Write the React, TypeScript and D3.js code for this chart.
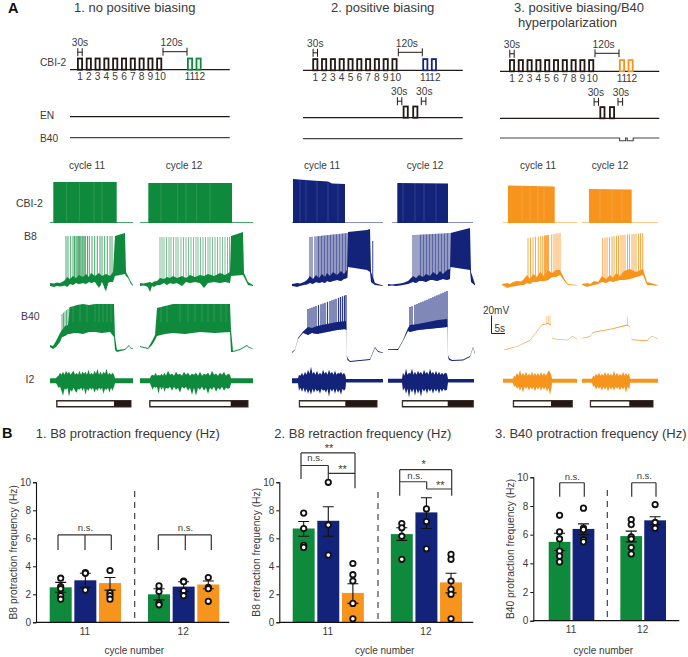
import React, { useEffect, useRef } from "react";
import * as d3 from "d3";

const green = "#0f8a3c";
const navy = "#14237a";
const orange = "#f7941d";
const ink = "#231815";
const label = "#3a3a3a";
const font = "'Liberation Sans', Arial, sans-serif";

// protocol timing, seconds
const cycleNames = ["1", "2", "3", "4", "5", "6", "7", "8", "9", "10", "11", "12"];
const cycleOnsets = [0, 44, 88, 132, 176, 220, 264, 308, 352, 396, 550, 593];
const enOnsets = [452, 500];
const b40Dips = [553, 591];

// traces: [time, low, high] in trace units
const p1c11Cbi = [[0, 0, 0.8], [3.3, 0, 0.8], [3.3, 0, 41], [66.7, 0, 41], [66.7, 0, 0.8], [83, 0, 0.8]];
const p1c12Cbi = [[0, 0, 0.8], [8.3, 0, 0.8], [8.3, 0, 40], [92, 0, 40], [92, 0, 0.8], [113, 0, 0.8]];
const p2c11Cbi = [[0, 0, 0.6], [1, 0, 0.6], [1, 0, 44], [20, 0, 42.5], [36, 0, 41.5], [40, 0, 39.5], [53, 0, 39], [53, 0, 0.6], [91, 0, 0.6]];
const p2c12Cbi = [[4, 0, 0.6], [9.3, 0, 0.6], [9.3, 0, 40], [60, 0, 39.5], [60, 0, 0.6], [85, 0, 0.6]];
const p3c11Cbi = [[1, 0, 0.6], [6, 0, 0.6], [6, 0, 37.5], [52.7, 0, 36.5], [52.7, 0, 0.6], [75, 0, 0.6]];
const p3c12Cbi = [[0, 0, 0.6], [7, 0, 0.6], [7, 0, 34], [49.7, 0, 33.5], [49.7, 0, 0.6], [76, 0, 0.6]];

const p1c11CbiGaps = [16.7, 29.3, 44, 52];
const p1c12CbiGaps = [21, 37.7, 46, 56.7, 70];
const p2c11CbiGaps = [8, 14, 25, 36, 46];
const p2c12CbiGaps = [15, 27, 36, 48];
const p3c11CbiGaps = [20, 28, 36, 42];
const p3c12CbiGaps = [18, 30, 40];

const p1c11B8 = [[0, 4, 7], [4, 3, 6.5], [7, 4, 7.5], [10, 3.5, 7], [13, 4, 8.5], [15, 4.5, 10], [17, 3, 13], [20, 6, 11], [23, 5, 14], [26, 7, 12], [29, 6, 15], [33, 7, 13], [36, 6, 16], [39, 8, 13], [41, 7, 17], [45, 8, 14], [49, 2, 17], [52, 8, 14], [56, -1.5, 16], [58, 7, 15], [60, 8, 14], [63, 8, 18], [65, 14, 54], [75, 16, 57], [76, 14, 18], [78, 12, 14], [81, 6, 8], [83, 4, 5]];
const p1c11B8Spikes = [16, 18, 20.7, 23, 24.5, 26, 27.2, 28.4, 29.6, 30.8, 32, 33, 34.2, 35.4, 37.5, 39.3, 42, 44.7, 47.3, 50, 52, 54.7, 57.3, 60, 62];
const p1c12B8 = [[0, 4, 7], [3, 4.5, 6.5], [6, 4, 7], [8, 2.5, 7.5], [10, -2, 8], [12, 4, 7], [14, 3, 8.5], [17, 5, 9], [20, 5, 12], [24, 7, 11], [27, 5, 13], [30, 7, 12], [33, 6, 14], [37, 7, 12], [42, 4, 14], [46, 8, 12], [50, 7, 15], [55, 8, 13], [60, 7, 15], [64, 2, 14], [68, 7, 16], [74, 8, 14], [80, 7, 17], [85, 8, 15], [90, 7, 18], [91, 14, 54], [103, 15, 58], [104, 13, 17], [108, 5, 8], [113, 4, 5]];
const p1c12B8Spikes = [20, 22, 24, 26.5, 29, 31, 33.5, 36, 38, 41, 43.5, 46, 48.5, 51, 53.5, 56, 58, 60.5, 63, 65.5, 68, 70, 72.5, 75, 77.5, 80, 82.5, 85, 87.5, 89.5];
const p2c11B8 = [[0, 4, 6], [3, 3.5, 6.5], [5, 3, 7], [8, 4, 6.5], [12, 5, 8], [15, 5.5, 10], [18, 7, 14], [21, 6, 11], [24, 8, 15], [27, 7, 12], [30, 8, 16], [33, 7, 13], [35, 9, 17], [38, 8, 14], [41, 9, 18], [45, 10, 15], [49, 9, 19], [52, 11, 16], [55, 12, 20], [56, 23, 58], [75, 20, 60], [78, 18, 61], [79, 8, 18], [83, 5, 7], [91, 4, 4.5]];
const p2c11B8Spikes = [18, 20, 23, 25, 26.5, 28, 29.5, 31, 32.5, 34, 35.5, 37, 38.5, 40, 41.5, 43, 44.5, 46, 47.5, 49, 50.5, 52, 53.5, 55, 80.7];
const p2c12B8 = [[0, 4, 6], [4, 4.5, 5.5], [8, 4, 6], [12, 4.5, 6.5], [15, 5, 7], [20, 6, 9], [25, 8, 14], [28, 7, 12], [31, 9, 15], [35, 9, 13], [38, 8, 16], [42, 10, 14], [45, 10, 18], [49, 9, 15], [52, 10, 19], [55, 11, 16], [59, 10, 20], [62, 11, 21], [62.5, 23, 57], [82, 20, 62], [83, 8, 18], [87, 4.5, 6]];
const p2c12B8Spikes = [25, 27, 29, 31, 32.5, 34, 35.5, 37, 38.5, 40, 41.5, 43, 44.5, 46, 47.5, 49, 50.5, 52, 53.5, 55, 56.5, 58, 59.5, 61];
const p3c11B8 = [[0, 5, 6], [3, 3.5, 6.5], [5, 2, 7], [8, 3, 6], [11, 3.5, 8], [15, 4, 9], [19, 5, 8.5], [22, 5, 11], [25, 7, 15], [28, 6, 11], [31, 8, 16], [35, 8, 13], [38, 9, 18], [42, 9, 14], [46, 10, 20], [50, 13, 17], [54, 13, 20], [58, 15, 20], [63, 8, 10], [66, 5, 6], [75, 4.5, 5]];
const p3c11B8Spikes = [26, 28.5, 31, 33.5, 36.3, 38.7, 40.7, 42.5, 43.5, 44.5, 45.5, 46.5, 49.7, 52, 54, 56, 58];
const p3c12B8 = [[0, 5, 6], [3, 4, 6.5], [5, 3, 7], [8, 4, 6], [12, 5, 9], [16, 6, 8], [20, 8, 14], [24, 7, 11], [28, 9, 15], [31, 8, 12], [34, 9, 17], [38, 10, 14], [42, 10, 19], [48, 11, 21], [54, 13, 18], [61, 15, 21], [65, 5, 8], [76, 4.5, 5]];
const p3c12B8Spikes = [20.7, 23, 25, 27.5, 30, 32, 34.5, 36.5, 39, 41, 43, 45.5, 47.5, 50, 52, 54, 56.5, 58.5, 60.7];

const p1c11B8Ceil = [[16, 54], [62, 54]];
const p1c12B8Ceil = [[20, 53], [90, 53]];
const p2c11B8Ceil = [[18, 53], [55, 57], [80.7, 49]];
const p2c12B8Ceil = [[25, 55], [62, 57]];
const p3c11B8Ceil = [[26, 52], [46, 55], [58, 57]];
const p3c12B8Ceil = [[20, 52], [40, 55], [61, 57]];

const p1c11B40 = [[0, 13, 15], [3, 11, 14], [6, 13, 19], [10, 18, 27], [12, 23, 30], [15, 24, 34], [18, 26, 35], [20, 26, 53], [24, 27, 54], [27, 27, 55], [33, 26, 56], [39, 28, 55], [45, 28, 56], [52, 27, 56], [60, 28, 56], [64, 23, 56], [65, 10, 23], [67, 8, 10], [75, 10, 11], [79, 14, 15], [81, 11, 12], [83, 11, 11.5]];
const p1c11B40Spikes = [12, 13.5, 15, 16.5, 18, 19.5];
const p1c11B40Gaps = [23, 30, 37, 45, 49, 53, 57, 61];
const p1c12B40 = [[0, 13, 14], [8, 11, 12], [12, 15, 19], [15, 20, 25], [17, 24, 52], [25, 26, 54], [33, 27, 56], [45, 26, 56], [60, 28, 56], [75, 27, 56], [90, 28, 56], [91, 8, 30], [93, 8, 9], [100, 10, 11], [107, 14, 15], [109, 12, 13], [113, 11, 11.5]];
const p1c12B40Gaps = [21, 27, 40, 48, 55, 62, 68, 74, 81, 86];
const p2c11B40 = [[0, 7, 8], [3, 10, 10.5], [6, 21, 22], [11, 27, 28.5], [16, 25, 33], [20, 27, 32], [25, 26, 34], [35, 28, 36], [45, 30, 38], [54, 31, 39], [54, 30, 39], [54.8, 3, 5], [55.5, 0, 2], [58, -2, -1], [78, 0, 1], [83, 12, 13], [86, 8, 9], [91, 7, 7.5]];
const p2c11B40Spikes = [16, 18, 20, 22, 24, 26.5, 29, 31, 33, 35.5, 38, 40, 42, 44, 46.5, 48.5, 50.5, 52.5, 54];
const p2c11B40Ceil = [[16, 51], [54, 65]];
const p2c12B40 = [[0, 10, 10.7], [10, 10, 11], [15, 19, 20], [20, 29, 32], [22, 28, 35], [30, 30, 36], [40, 31, 38], [50, 32, 40], [59, 33, 41], [59.2, 30, 41], [60, 3, 5], [61, 0, 2], [64, -1, 0], [75, -0.5, 0.5], [82, 3, 4], [85, 12, 13], [87, 6, 7]];
const p2c12B40Spikes = [22, 24, 27, 29, 31, 33, 35, 37, 39, 41, 43, 45, 47, 49, 51, 53, 55, 57, 59];
const p2c12B40Ceil = [[22, 53], [59, 69]];
const p3c11B40 = [[2, 9.7, 10.3], [15, 13.2, 13.8], [28, 19.2, 19.9], [34, 27.2, 28], [40, 34.7, 35.5], [46, 36.2, 37], [49, 34.6, 35.4], [50.3, 21.4, 22.2], [55, 20.2, 20.8], [66, 19.7, 20.3], [70, 23.7, 24.3], [75, 20.7, 21.3]];
const p3c11B40Spikes = [44.7, 46.3, 48];
const p3c11B40Ceil = [[44.7, 44], [48, 44.5]];
const p3c12B40 = [[0, 21.4, 22], [8, 23.1, 23.7], [11, 27.2, 27.9], [30, 30.8, 31.6], [45, 34.4, 35.4], [48, 33, 33.8], [49.7, 20, 20.8], [55, 19.6, 20.2], [65, 19.1, 19.7], [70, 23.7, 24.3], [76, 20.7, 21.3]];
const p3c12B40Spikes = [45.5];
const p3c12B40Ceil = [[45, 43.5], [46, 43.5]];

const p1c11I2 = [[0, -2.5, 2.5], [6, -2.5, 2.5], [7, -4, 4], [8.5, -7, 5], [10, -6, 8], [11.5, -10, 6], [13, -15, 9], [14.5, -8, 6], [16, -9, 10], [17.5, -7, 7], [19, -16, 9], [20.5, -9, 6], [22, -11, 8], [23.5, -7, 10], [25, -10, 6], [26.5, -12, 8], [28, -8, 6], [29.5, -9, 10], [31, -7, 6], [32.5, -10, 9], [34, -7, 7], [35.5, -14, 9], [37, -8, 6], [38.5, -10, 11], [40, -7, 6], [41.5, -9, 8], [43, -7, 6], [44.5, -12, 10], [46, -8, 7], [47.5, -10, 12], [49, -7, 6], [50.5, -9, 9], [52, -7, 6], [53.5, -13, 9], [55, -8, 7], [56.5, -9, 12], [58, -7, 6], [59.5, -12, 8], [61, -7, 6], [62.5, -10, 8], [64, -6, 6], [65, -2.5, 2.5], [83, -2.5, 2.5]];
const p1c12I2 = [[0, -2.5, 2.5], [10, -2.5, 2.5], [11, -5, 5], [12.5, -9, 6], [14, -6, 5], [15.5, -7, 8], [17, -6, 5], [18.5, -13, 6], [20, -6, 5], [21.5, -9, 7], [23, -6, 5], [24.5, -11, 8], [26, -7, 5], [28, -8, 10], [30, -6, 6], [32, -10, 7], [34, -6, 5], [36, -9, 9], [38, -7, 6], [40, -12, 7], [42, -6, 5], [44, -8, 9], [46, -6, 6], [48, -10, 8], [50, -7, 5], [52, -14, 7], [54, -7, 6], [56, -15, 8], [58, -7, 5], [60, -9, 9], [62, -6, 5], [64, -10, 7], [66, -7, 6], [68, -13, 8], [70, -7, 5], [72, -9, 10], [74, -6, 6], [76, -11, 7], [78, -7, 5], [80, -9, 8], [82, -6, 6], [84, -10, 9], [86, -7, 5], [88, -8, 7], [90, -7, 6], [91, -2.5, 2.5], [113, -2.5, 2.5]];
const p2c11I2 = [[0, -2.5, 2.5], [6, -2.5, 2.5], [7, -10, 6], [8.5, -7, 5], [10, -11, 8], [11.5, -7, 5], [13, -12, 9], [14.5, -8, 6], [16, -13, 11], [17.5, -9, 7], [19, -14, 14], [20.5, -8, 7], [22, -12, 9], [23.5, -8, 6], [25, -11, 10], [26.5, -9, 6], [28, -13, 8], [29.5, -8, 6], [31, -10, 11], [32.5, -9, 7], [34, -12, 9], [35.5, -8, 6], [37, -16, 11], [38.5, -8, 7], [40, -11, 9], [41.5, -8, 6], [43, -13, 10], [44.5, -8, 6], [46, -12, 8], [47.5, -9, 7], [49, -14, 9], [50.5, -8, 6], [52, -10, 8], [53.5, -8, 5], [54, -1.8, 1.8], [91, -1.8, 1.8]];
const p2c12I2 = [[0, -2, 2], [14, -2, 2], [15, -10, 8], [16.5, -7, 5], [18, -13, 12], [19.5, -8, 6], [21, -17, 8], [22.5, -8, 7], [24, -12, 12], [25.5, -8, 6], [27, -15, 9], [28.5, -8, 6], [30, -13, 10], [31.5, -9, 7], [33, -16, 9], [34.5, -8, 6], [36, -11, 11], [37.5, -8, 7], [39, -13, 9], [40.5, -8, 6], [42, -11, 12], [43.5, -8, 7], [45, -13, 9], [46.5, -8, 6], [48, -11, 10], [49.5, -8, 6], [51, -13, 9], [52.5, -8, 6], [54, -11, 8], [55.5, -8, 6], [57, -10, 8], [59, -9, 7], [60, -1.8, 1.8], [86, -1.8, 1.8]];
const p3c11I2 = [[1, -2, 2], [11, -2, 2], [12, -6, 5], [13.5, -5, 4], [15, -8, 8], [16.5, -6, 5], [18, -10, 11], [19.5, -6, 5], [21, -12, 8], [22.5, -6, 5], [24, -8, 9], [25.5, -6, 5], [27, -10, 7], [28.5, -6, 5], [30, -9, 9], [31.5, -6, 5], [33, -11, 8], [34.5, -6, 5], [36, -9, 8], [37.5, -6, 5], [39, -10, 9], [40.5, -6, 5], [42, -9, 8], [43.5, -6, 5], [45, -11, 7], [46.5, -7, 10], [48, -14, 9], [49.7, -6, 4], [50, -2, 2], [75, -2, 2]];
const p3c12I2 = [[0, -2, 2], [10, -2, 2], [11, -6, 5], [12.5, -5, 4], [14, -9, 7], [15.5, -6, 5], [17, -8, 8], [18.5, -6, 5], [20, -10, 7], [21.5, -6, 5], [23, -9, 9], [24.5, -6, 5], [26, -11, 8], [27.5, -6, 5], [29, -9, 7], [30.5, -6, 5], [32, -10, 10], [33.5, -6, 5], [35, -8, 8], [36.5, -6, 5], [38, -10, 7], [39.5, -6, 5], [41, -9, 9], [42.5, -6, 5], [44, -12, 8], [45.5, -6, 5], [47, -8, 8], [47.5, -8, 5], [48, -2, 2], [76, -2, 2]];

// panel B values, Hz
const cycles = ["11", "12"];
const b8ProMeans = [[2.5, 3.0, 2.8], [2.0, 2.55, 2.7]];
const b8ProErr = [[[2.15, 2.85], [2.5, 3.5], [2.3, 3.2]], [[1.6, 2.4], [2.2, 2.9], [2.4, 2.95]]];
const b8ProPts = [[[3.15, 2.55, 2.4, 1.9, 1.65], [3.55, 3.5, 2.3], [3.7, 2.1, 1.9, 1.65]], [[2.6, 2.2, 1.35, 1.25], [2.95, 2.9, 2.25, 1.9], [3.2, 2.5, 2.4, 1.5]]];
const b8RetMeans = [[6.7, 7.25, 2.1], [6.3, 7.85, 2.85]];
const b8RetErr = [[[6.15, 7.2], [6.15, 8.25], [1.35, 2.75]], [[5.85, 6.75], [6.7, 8.9], [2.1, 3.5]]];
const b8RetPts = [[[7.8, 6.7, 5.5, 5.35], [10, 6.95, 4.8], [4.2, 3.4, 2.95, 1.35, 0.25]], [[7.05, 6.75, 6.15, 4.5], [8.1, 7.2, 5.25], [4.85, 4.5, 2.95, 2.35, 2.0, 0.25]]];
const b40ProMeans = [[5.5, 6.4], [5.9, 7.0]];
const b40ProErr = [[[4.9, 6.1], [6.0, 6.75]], [[5.5, 6.25], [6.7, 7.25]]];
const b40ProPts = [[[7.35, 6.2, 5.7, 4.85, 4.5, 4.1], [7.85, 6.45, 6.35, 5.65, 5.5]], [[7.05, 6.7, 5.85, 5.7, 5.1, 4.65], [8.1, 6.85, 6.45]]];

const yTicks = [0, 2, 4, 6, 8, 10];

function addText(g, x, y, str, size, anchor = "start", weight = "normal", fill = label) {
  return g
    .append("text")
    .attr("x", x)
    .attr("y", y)
    .attr("font-size", size)
    .attr("font-family", font)
    .attr("font-weight", weight)
    .attr("text-anchor", anchor)
    .attr("fill", fill)
    .text(str);
}

function hMark(g, x1, x2, y1, y2) {
  const p = d3.path();
  p.moveTo(x1, y1);
  p.lineTo(x1, y2);
  p.moveTo(x2, y1);
  p.lineTo(x2, y2);
  p.moveTo(x1, (y1 + y2) / 2);
  p.lineTo(x2, (y1 + y2) / 2);
  g.append("path").attr("d", p.toString()).attr("fill", "none").attr("stroke", ink).attr("stroke-width", 1);
}

function hline(g, x1, x2, y, w = 1.2, c = ink) {
  g.append("line").attr("x1", x1).attr("x2", x2).attr("y1", y).attr("y2", y).attr("stroke", c).attr("stroke-width", w);
}

function drawBox(g, x, w, base, stroke) {
  g.append("rect")
    .attr("x", x + 0.9)
    .attr("y", base - 11.2)
    .attr("width", w - 1.8)
    .attr("height", 11.2)
    .attr("fill", "#fff")
    .attr("stroke", stroke)
    .attr("stroke-width", 1.8);
}

function drawProtocol(g, o) {
  const x = d3.scaleLinear().domain([0, 1000]).range([o.start, o.start + 200]);
  const boxW = x(30) - x(0);
  hline(g, o.x0, o.x1, o.cbiY);
  cycleOnsets.forEach((t, i) => {
    drawBox(g, x(t), boxW, o.cbiY, i < 10 ? ink : o.color);
    addText(g, x(t + 15) + (i == 9 ? 1 : i == 11 ? 1 : 0), o.cbiY + 10.5, cycleNames[i], 10.2, "middle");
  });
  addText(g, x(15), o.cbiY - 23.5, "30s", 10.2, "middle");
  hMark(g, x(15) - 2.2, x(15) + 2.2, o.cbiY - 21.5, o.cbiY - 13.5);
  addText(g, x(473), o.cbiY - 23.5, "120s", 10.2, "middle");
  hMark(g, x(430), x(550), o.cbiY - 22, o.cbiY - 14);

  hline(g, o.x0, o.x1, o.enY);
  if (o.en) {
    enOnsets.forEach((t) => drawBox(g, x(t), boxW, o.enY, ink));
    const lx = [x(enOnsets[0]) - 3.5, x(enOnsets[1] + 30) + 6];
    lx.forEach((c, i) => {
      addText(g, c, o.enY - 22.5, "30s", 10.2, "middle");
      hMark(g, c + (i == 0 ? -1.8 : -3), c + (i == 0 ? 2.6 : 1.6), o.enY - 20.5, o.enY - 12.5);
    });
  }
  if (o.dips) {
    const pts = [[o.x0, o.b40Y]];
    b40Dips.forEach((t) => {
      pts.push([x(t), o.b40Y], [x(t), o.b40Y + 2.7], [x(t + 30), o.b40Y + 2.7], [x(t + 30), o.b40Y]);
    });
    pts.push([o.x1, o.b40Y]);
    g.append("path").attr("d", d3.line()(pts)).attr("fill", "none").attr("stroke", "#444").attr("stroke-width", 1.1);
  } else {
    hline(g, o.x0, o.x1, o.b40Y, 1.2, "#444");
  }
}

function drawTrace(g, x0, refY, color, t) {
  const x = d3.scaleLinear().domain([0, 120]).range([x0, x0 + 120]);
  const y = d3.scaleLinear().domain([-30, 80]).range([refY + 30, refY - 80]);
  const area = d3
    .area()
    .x((d) => x(d[0]))
    .y0((d) => y(d[1]))
    .y1((d) => y(d[2]));
  g.append("path").attr("d", area(t.base)).attr("fill", color).attr("stroke", "none");

  if (t.spikes) {
    const foot = d3.scaleLinear().domain(t.base.map((d) => d[0])).range(t.base.map((d) => d[1]));
    const ceil = d3.scaleLinear().domain(t.ceil.map((d) => d[0])).range(t.ceil.map((d) => d[1]));
    g.selectAll(null)
      .data(t.spikes)
      .enter()
      .append("line")
      .attr("x1", (d) => x(d))
      .attr("x2", (d) => x(d))
      .attr("y1", (d) => y(foot(d)))
      .attr("y2", (d) => y(ceil(d)))
      .attr("stroke", color)
      .attr("stroke-width", t.spikeW || 1)
      .attr("stroke-opacity", t.spikeO || 0.7);
  }
  if (t.gaps) {
    const top = d3.max(t.base, (d) => d[2]);
    g.selectAll(null)
      .data(t.gaps)
      .enter()
      .append("line")
      .attr("x1", (d) => x(d))
      .attr("x2", (d) => x(d))
      .attr("y1", y(t.gapLow || 2))
      .attr("y2", y(top))
      .attr("stroke", "#fff")
      .attr("stroke-width", 0.7)
      .attr("stroke-opacity", 0.2);
  }
}

function drawBars(g, o) {
  const y = d3.scaleLinear().domain([0, 10]).range([o.y0, o.y10]);
  const outer = d3.scaleBand().domain(cycles).range(o.barRange).paddingInner(o.outerPad).paddingOuter(0);
  const colors = [green, navy, orange];
  const inner = d3
    .scaleBand()
    .domain(o.means[0].map((_, i) => String(i)))
    .range([0, outer.bandwidth()])
    .paddingInner(o.innerPad)
    .paddingOuter(0);

  cycles.forEach((c, ci) => {
    o.means[ci].forEach((m, si) => {
      const bx = outer(c) + inner(String(si));
      const cx = bx + inner.bandwidth() / 2;
      g.append("rect")
        .attr("x", bx)
        .attr("y", y(m))
        .attr("width", inner.bandwidth())
        .attr("height", y(0) - y(m))
        .attr("fill", colors[si]);
      const [lo, hi] = o.err[ci][si];
      const p = d3.path();
      p.moveTo(cx, y(lo));
      p.lineTo(cx, y(hi));
      p.moveTo(cx - 5.5, y(lo));
      p.lineTo(cx + 5.5, y(lo));
      p.moveTo(cx - 5.5, y(hi));
      p.lineTo(cx + 5.5, y(hi));
      g.append("path").attr("d", p.toString()).attr("fill", "none").attr("stroke", "#111").attr("stroke-width", 1.1);
      o.pts[ci][si].forEach((v) => {
        g.append("circle")
          .attr("cx", cx)
          .attr("cy", y(v))
          .attr("r", 2.7)
          .attr("fill", "#fff")
          .attr("stroke", "#111")
          .attr("stroke-width", 1.8);
      });
    });
    addText(g, outer(c) + outer.bandwidth() / 2 - 0.5, o.y0 + 12.5, c, 10, "middle");
  });

  const axis = d3.axisLeft(y).tickValues(yTicks).tickSize(3).tickPadding(2);
  const ag = g.append("g").attr("transform", `translate(${o.axisX},0)`).call(axis);
  ag.select(".domain").attr("stroke", "#111").attr("stroke-width", 1.1);
  ag.selectAll(".tick line").attr("stroke", "#111");
  ag.selectAll(".tick text").attr("font-size", 10).attr("font-family", font).attr("fill", label);
  hline(g, o.axisX, o.axisEnd, o.y0, 1.2, "#111");

  g.append("line")
    .attr("x1", o.dashX)
    .attr("x2", o.dashX)
    .attr("y1", o.dashTop)
    .attr("y2", o.y0)
    .attr("stroke", "#333")
    .attr("stroke-width", 1.1)
    .attr("stroke-dasharray", "6,5");

  addText(g, o.labelX, 0, o.yLabel, 10.3, "middle").attr("transform", `translate(${o.labelX},${(o.y0 + o.y10) / 2}) rotate(-90)`).attr("x", 0).attr("y", 0);
  addText(g, o.xLabelX, 654, "cycle number", 10, "middle");

  o.brackets.forEach((b) => {
    const p = d3.path();
    b.path.forEach(([x1, v1, x2, v2]) => {
      p.moveTo(x1, y(v1));
      p.lineTo(x2, y(v2));
    });
    g.append("path").attr("d", p.toString()).attr("fill", "none").attr("stroke", "#333").attr("stroke-width", 1.2);
  });
  o.marks.forEach(([x, v, s]) => addText(g, x, y(v), s, s == "n.s." ? 9.5 : 11, "middle"));
}

export default function App() {
  const ref = useRef(null);

  useEffect(() => {
    const svg = d3.select(ref.current);
    svg.selectAll("*").remove();
    const g = svg.append("g");

    addText(g, 8, 13, "A", 14.5, "start", "bold", "#111");
    addText(g, 74, 11.5, "1. no positive biasing", 13);
    addText(g, 331, 11.5, "2. positive biasing", 13);
    addText(g, 514, 12, "3. positive biasing/B40", 13);
    addText(g, 518, 27, "hyperpolarization", 13);

    addText(g, 40, 66, "CBI-2", 10.2);
    addText(g, 40, 118.5, "EN", 10.2);
    addText(g, 40, 141.5, "B40", 10.2);

    drawProtocol(g, { start: 77, x0: 70, x1: 229.7, cbiY: 69.7, enY: 116.7, b40Y: 137.7, color: green });
    drawProtocol(g, { start: 312.3, x0: 303, x1: 462.7, cbiY: 70.3, enY: 117.7, b40Y: 138.7, color: navy, en: true });
    drawProtocol(g, { start: 509, x0: 500, x1: 659.3, cbiY: 71.3, enY: 118.3, b40Y: 138, color: orange, en: true, dips: true });

    [[87, "cycle 11"], [184, "cycle 12"], [322, "cycle 11"], [425, "cycle 12"], [538, "cycle 11"], [610, "cycle 12"]].forEach(([x, s]) =>
      addText(g, x, 169, s, 10, "middle")
    );
    addText(g, 16, 207, "CBI-2", 10.5);
    addText(g, 24, 240, "B8", 10.5);
    addText(g, 21, 320, "B40", 10.5);
    addText(g, 25.5, 383, "I2", 10.5);

    const cbiY = 223, b8Y = 290, b40Y = 360, i2Y = 380.7;
    // panel 1
    drawTrace(g, 50, cbiY, green, { base: p1c11Cbi, gaps: p1c11CbiGaps });
    drawTrace(g, 140, cbiY, green, { base: p1c12Cbi, gaps: p1c12CbiGaps });
    drawTrace(g, 50, b8Y, green, { base: p1c11B8, spikes: p1c11B8Spikes, ceil: p1c11B8Ceil, spikeO: 0.75 });
    drawTrace(g, 140, b8Y, green, { base: p1c12B8, spikes: p1c12B8Spikes, ceil: p1c12B8Ceil, spikeO: 0.55 });
    drawTrace(g, 50, b40Y, green, { base: p1c11B40, spikes: p1c11B40Spikes, ceil: [[12, 46], [20, 53]], gaps: p1c11B40Gaps, gapLow: 38 });
    drawTrace(g, 140, b40Y, green, { base: p1c12B40, gaps: p1c12B40Gaps, gapLow: 38 });
    drawTrace(g, 50, i2Y, green, { base: p1c11I2 });
    drawTrace(g, 140, i2Y, green, { base: p1c12I2 });
    // panel 2
    drawTrace(g, 292, cbiY, navy, { base: p2c11Cbi, gaps: p2c11CbiGaps });
    drawTrace(g, 388, cbiY, navy, { base: p2c12Cbi, gaps: p2c12CbiGaps });
    drawTrace(g, 292, b8Y, navy, { base: p2c11B8, spikes: p2c11B8Spikes, ceil: p2c11B8Ceil, spikeW: 1.2, spikeO: 0.7 });
    drawTrace(g, 388, b8Y, navy, { base: p2c12B8, spikes: p2c12B8Spikes, ceil: p2c12B8Ceil, spikeW: 1.2, spikeO: 0.7 });
    drawTrace(g, 292, b40Y, navy, { base: p2c11B40, spikes: p2c11B40Spikes, ceil: p2c11B40Ceil, spikeW: 1.2, spikeO: 0.9 });
    drawTrace(g, 388, b40Y, navy, { base: p2c12B40, spikes: p2c12B40Spikes, ceil: p2c12B40Ceil, spikeW: 1.2, spikeO: 0.9 });
    drawTrace(g, 292, i2Y, navy, { base: p2c11I2 });
    drawTrace(g, 388, i2Y, navy, { base: p2c12I2 });
    // panel 3
    drawTrace(g, 502, cbiY, orange, { base: p3c11Cbi, gaps: p3c11CbiGaps });
    drawTrace(g, 582, cbiY, orange, { base: p3c12Cbi, gaps: p3c12CbiGaps });
    drawTrace(g, 502, b8Y, orange, { base: p3c11B8, spikes: p3c11B8Spikes, ceil: p3c11B8Ceil, spikeO: 0.8 });
    drawTrace(g, 582, b8Y, orange, { base: p3c12B8, spikes: p3c12B8Spikes, ceil: p3c12B8Ceil, spikeO: 0.8 });
    drawTrace(g, 502, b40Y, orange, { base: p3c11B40, spikes: p3c11B40Spikes, ceil: p3c11B40Ceil, spikeW: 0.7 });
    drawTrace(g, 582, b40Y, orange, { base: p3c12B40, spikes: p3c12B40Spikes, ceil: p3c12B40Ceil, spikeW: 0.7 });
    drawTrace(g, 502, i2Y, orange, { base: p3c11I2 });
    drawTrace(g, 582, i2Y, orange, { base: p3c12I2 });

    // 20 mV / 5 s scale bar
    addText(g, 483, 313.5, "20mV", 10);
    addText(g, 494.5, 332, "5s", 10);
    g.append("path")
      .attr("d", d3.line()([[491.5, 315.5], [491.5, 333.5], [505, 333.5]]))
      .attr("fill", "none")
      .attr("stroke", "#222")
      .attr("stroke-width", 1);

    // protraction / retraction bars
    [
      [56.7, 114, 131],
      [149.7, 230.7, 248],
      [299.3, 345.3, 377],
      [402.3, 447.7, 473.3],
      [513.3, 551, 572.3],
      [590.3, 629.3, 653],
    ].forEach(([a, b, c]) => {
      g.append("rect").attr("x", a).attr("y", 400.5).attr("width", c - a).attr("height", 6.5).attr("fill", ink).attr("stroke", "#3a2a26").attr("stroke-width", 1);
      g.append("rect").attr("x", a + 0.8).attr("y", 401.5).attr("width", b - a - 0.8).attr("height", 4.5).attr("fill", "#fff");
    });

    // panel B
    addText(g, 2, 438, "B", 14.5, "start", "bold", "#111");
    addText(g, 35.7, 438, "1. B8 protraction frequency (Hz)", 13);
    addText(g, 274.3, 438, "2. B8 retraction frequency (Hz)", 13);
    addText(g, 495, 438, "3. B40 protraction frequency (Hz)", 13);

    drawBars(g, {
      means: b8ProMeans, err: b8ProErr, pts: b8ProPts,
      y0: 622.3, y10: 482.3, barRange: [49.7, 219.3], outerPad: 0.2747, innerPad: 0.1075,
      axisX: 36, axisEnd: 229.3, dashX: 134.7, dashTop: 491, labelX: 16.5, xLabelX: 134.3,
      yLabel: "B8 protraction frequency (Hz)",
      brackets: [
        { path: [[58, 6.24, 111.3, 6.24], [58, 6.24, 58, 5.17], [85, 6.24, 85, 5.17], [111.3, 6.24, 111.3, 5.17]] },
        { path: [[158.3, 6.24, 211.3, 6.24], [158.3, 6.24, 158.3, 5.17], [185.3, 6.24, 185.3, 5.17], [211.3, 6.24, 211.3, 5.17]] },
      ],
      marks: [[85.5, 6.5, "n.s."], [185.5, 6.5, "n.s."]],
    });
    drawBars(g, {
      means: b8RetMeans, err: b8RetErr, pts: b8RetPts,
      y0: 622.3, y10: 482.3, barRange: [292.7, 462], outerPad: 0.2747, innerPad: 0.1075,
      axisX: 279.3, axisEnd: 473.3, dashX: 378, dashTop: 492, labelX: 260, xLabelX: 384.7,
      yLabel: "B8 retraction frequency (Hz)",
      brackets: [
        { path: [[301, 12.1, 355, 12.1], [301, 12.1, 301, 10.24], [355, 12.1, 355, 9.57], [301, 11.2, 328.3, 11.2], [328.3, 11.2, 328.3, 10.24], [328.3, 10.64, 355, 10.64]] },
        { path: [[399.7, 10.9, 451.7, 10.9], [399.7, 10.9, 399.7, 9.04], [451.7, 10.9, 451.7, 9.04], [399.7, 10.04, 426.7, 10.04], [426.7, 10.04, 426.7, 9.52], [426.7, 9.52, 451.7, 9.52]] },
      ],
      marks: [[329, 12.16, "**"], [315, 11.5, "n.s."], [342.5, 10.66, "**"], [423.7, 11.0, "*"], [415, 10.24, "n.s."], [440.3, 9.55, "**"]],
    });
    drawBars(g, {
      means: b40ProMeans, err: b40ProErr, pts: b40ProPts,
      y0: 620.7, y10: 477.3, barRange: [548.7, 666], outerPad: 0.363, innerPad: 0.09,
      axisX: 533.3, axisEnd: 679.3, dashX: 607.3, dashTop: 490, labelX: 513.5, xLabelX: 603.3,
      yLabel: "B40 protraction frequency (Hz)",
      brackets: [
        { path: [[559.7, 9.62, 584.3, 9.62], [559.7, 9.62, 559.7, 8.65], [584.3, 9.62, 584.3, 8.65]] },
        { path: [[631.7, 9.62, 656, 9.62], [631.7, 9.62, 631.7, 8.65], [656, 9.62, 656, 8.65]] },
      ],
      marks: [[572.3, 9.81, "n.s."], [644.3, 9.85, "n.s."]],
    });
  }, []);

  return <svg ref={ref} width={688} height={657} style={{ position: "absolute", left: 0, top: 0, display: "block" }} />;
}
